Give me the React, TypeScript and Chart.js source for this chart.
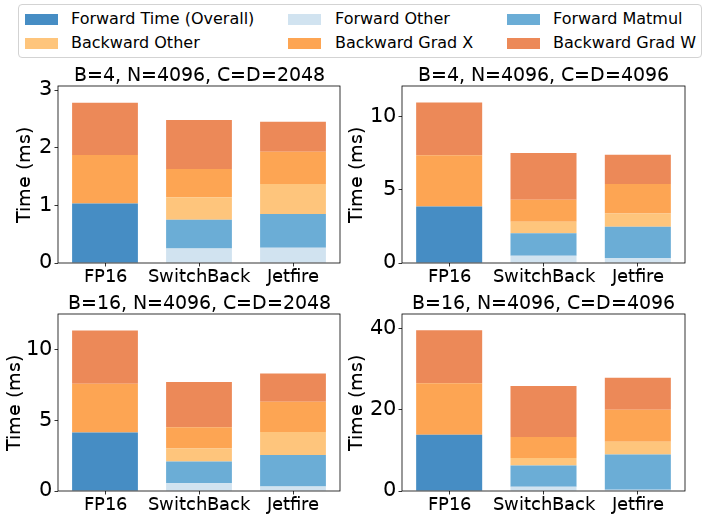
import React, { useEffect, useRef } from "react";
import { Chart, registerables } from "chart.js";

Chart.register(...registerables);

const HTML_FONT = "'DejaVu Sans', sans-serif";
const CANVAS_FONT = "DVS2, 'DejaVu Sans', sans-serif";

let facePromise: Promise<unknown> | null = null;
function loadFace() {
  if (facePromise) return facePromise;
  try {
    const FF = (window as any).FontFace;
    const face = new FF("DVS2", "local('DejaVuSans'), local('DejaVu Sans Book'), local('DejaVu Sans')");
    facePromise = face
      .load()
      .then((f: any) => (document as any).fonts.add(f))
      .catch(() => undefined);
  } catch (e) {
    facePromise = Promise.resolve();
  }
  return facePromise;
}

const categories = ["FP16", "SwitchBack", "Jetfire"];
const panelTitles = [
  "B=4, N=4096, C=D=2048",
  "B=4, N=4096, C=D=4096",
  "B=16, N=4096, C=D=2048",
  "B=16, N=4096, C=D=4096",
];
const seriesLabels = [
  "Forward Time (Overall)",
  "Forward Other",
  "Forward Matmul",
  "Backward Other",
  "Backward Grad X",
  "Backward Grad W",
];
const seriesColors = ["#468dc4", "#d1e3f0", "#6badd6", "#fec57c", "#fda553", "#ec8958"];

// Segment heights (ms) per panel, ordered [FP16, SwitchBack, Jetfire]
const forwardOverall = [
  [1.03, null, null],
  [3.87, null, null],
  [4.13, null, null],
  [13.8, null, null],
];
const forwardOther = [
  [null, 0.25, 0.265],
  [null, 0.5, 0.34],
  [null, 0.54, 0.31],
  [null, 1.07, 0.33],
];
const forwardMatmul = [
  [null, 0.5, 0.585],
  [null, 1.53, 2.14],
  [null, 1.54, 2.24],
  [null, 5.17, 8.63],
];
const backwardOther = [
  [null, 0.39, 0.52],
  [null, 0.79, 0.91],
  [null, 0.92, 1.62],
  [null, 1.89, 3.12],
];
const backwardGradX = [
  [0.845, 0.49, 0.56],
  [3.49, 1.51, 2.01],
  [3.44, 1.5, 2.13],
  [12.7, 5.17, 7.89],
];
const backwardGradW = [
  [0.905, 0.85, 0.52],
  [3.62, 3.19, 2.0],
  [3.77, 3.19, 2.0],
  [13.0, 12.5, 7.89],
];
const yMax = [3.07, 12.1, 12.5, 43.5];
const yStep = [1, 5, 5, 20];
const yAxisTitle = "Time (ms)";

const framePlugin = {
  id: "frame",
  afterDatasetsDraw(chart: any) {
    const { ctx, chartArea } = chart;
    const { left, top, right, bottom } = chartArea;
    ctx.save();
    ctx.strokeStyle = "#000";
    ctx.lineWidth = 0.8;
    ctx.strokeRect(left, top, right - left, bottom - top);
    ctx.restore();
  },
};

const axesTitlePlugin = {
  id: "axesTitle",
  afterDraw(chart: any, _args: any, opts: any) {
    const { ctx, chartArea } = chart;
    ctx.save();
    ctx.fillStyle = "#000";
    ctx.font = `${opts.size}px ${CANVAS_FONT}`;
    ctx.textAlign = "center";
    ctx.textBaseline = "alphabetic";
    ctx.fillText(opts.text, (chartArea.left + chartArea.right) / 2, chartArea.top - opts.gap);
    ctx.restore();
  },
};

const panelLeft = [0, 344, 0, 344];
const panelTop = [60, 60, 288, 288];
const panelPadRight = [10, 9, 10, 9];
const panelYTitlePad = [14, 2, 4, 2];

function Panel({ index }: { index: number }) {
  const ref = useRef<HTMLCanvasElement>(null);
  useEffect(() => {
    let chart: Chart | null = null;
    let alive = true;
    const make = () => {
      if (!alive || chart || !ref.current) return;
      const seriesData = [forwardOverall, forwardOther, forwardMatmul, backwardOther, backwardGradX, backwardGradW];
      chart = new Chart(ref.current, {
        type: "bar",
        data: {
          labels: categories,
          datasets: seriesLabels.map((label, s) => ({
            label,
            data: seriesData[s][index] as any,
            backgroundColor: seriesColors[s],
            borderWidth: 0,
            barPercentage: 0.7,
            categoryPercentage: 1,
          })),
        },
        options: {
          responsive: false,
          animation: false,
          layout: { padding: { left: 0, right: panelPadRight[index], top: 26, bottom: 0 } },
          plugins: {
            legend: { display: false },
            tooltip: { enabled: false },
            title: { display: false },
            axesTitle: { text: panelTitles[index], size: 19, gap: 5 },
          },
          scales: {
            x: {
              stacked: true,
              offset: true,
              grid: {
                display: true,
                offset: false,
                drawOnChartArea: false,
                drawTicks: true,
                tickLength: 3.5,
                color: "#000",
                lineWidth: 0.8,
              },
              border: { display: false },
              ticks: {
                color: "#000",
                font: { family: CANVAS_FONT, size: 17.5, lineHeight: 1.2 },
                padding: 0,
                maxRotation: 0,
                autoSkip: false,
              },
              afterFit: (s: any) => {
                s.height = 27;
              },
            },
            y: {
              stacked: true,
              min: 0,
              max: yMax[index],
              grid: {
                display: true,
                drawOnChartArea: false,
                drawTicks: true,
                tickLength: 3.5,
                color: "#000",
                lineWidth: 0.8,
              },
              border: { display: false },
              ticks: {
                stepSize: yStep[index],
                includeBounds: false,
                color: "#000",
                font: { family: CANVAS_FONT, size: 20.5, lineHeight: 1.2 },
                padding: 3,
              },
              title: {
                display: true,
                text: yAxisTitle,
                color: "#000",
                font: { family: CANVAS_FONT, size: 19, lineHeight: 1.2 },
                padding: { top: panelYTitlePad[index], bottom: 0 },
              },
              afterFit: (s: any) => {
                s.width = 58;
              },
            },
          },
        } as any,
        plugins: [framePlugin, axesTitlePlugin],
      });
    };
    const timeout = new Promise((r) => setTimeout(r, 800));
    Promise.race([loadFace(), timeout]).then(make, make);
    const late = setTimeout(() => {
      if (alive && chart) chart.update("none");
    }, 120);
    return () => {
      alive = false;
      clearTimeout(late);
      if (chart) chart.destroy();
    };
  }, [index]);
  return (
    <canvas
      ref={ref}
      width={350}
      height={230}
      style={{ position: "absolute", left: panelLeft[index], top: panelTop[index], width: 350, height: 230 }}
    />
  );
}

const legendSwatchX = [25, 288, 507];
const legendTextX = [71, 335, 553];
const legendRowY = [19, 43];

function Legend() {
  return (
    <>
      <div
        style={{
          position: "absolute",
          left: 18,
          top: 4,
          width: 684,
          height: 54,
          border: "1px solid #d3d3d3",
          borderRadius: 4,
          boxSizing: "border-box",
        }}
      />
      {seriesLabels.map((label, i) => {
        const col = i % 3;
        const row = Math.floor(i / 3);
        return (
          <React.Fragment key={label}>
            <div
              style={{
                position: "absolute",
                left: legendSwatchX[col],
                top: legendRowY[row] - 5.5,
                width: 33,
                height: 11,
                background: seriesColors[i],
              }}
            />
            <div
              style={{
                position: "absolute",
                left: legendTextX[col],
                top: legendRowY[row] - 10,
                height: 20,
                lineHeight: "20px",
                fontSize: 16,
                fontFamily: HTML_FONT,
                color: "#000",
                whiteSpace: "nowrap",
              }}
            >
              {label}
            </div>
          </React.Fragment>
        );
      })}
    </>
  );
}

export default function App() {
  return (
    <div
      style={{
        position: "fixed",
        left: 0,
        top: 0,
        width: 706,
        height: 520,
        background: "#fff",
        overflow: "hidden",
      }}
    >
      <Legend />
      {[0, 1, 2, 3].map((i) => (
        <Panel key={i} index={i} />
      ))}
    </div>
  );
}
